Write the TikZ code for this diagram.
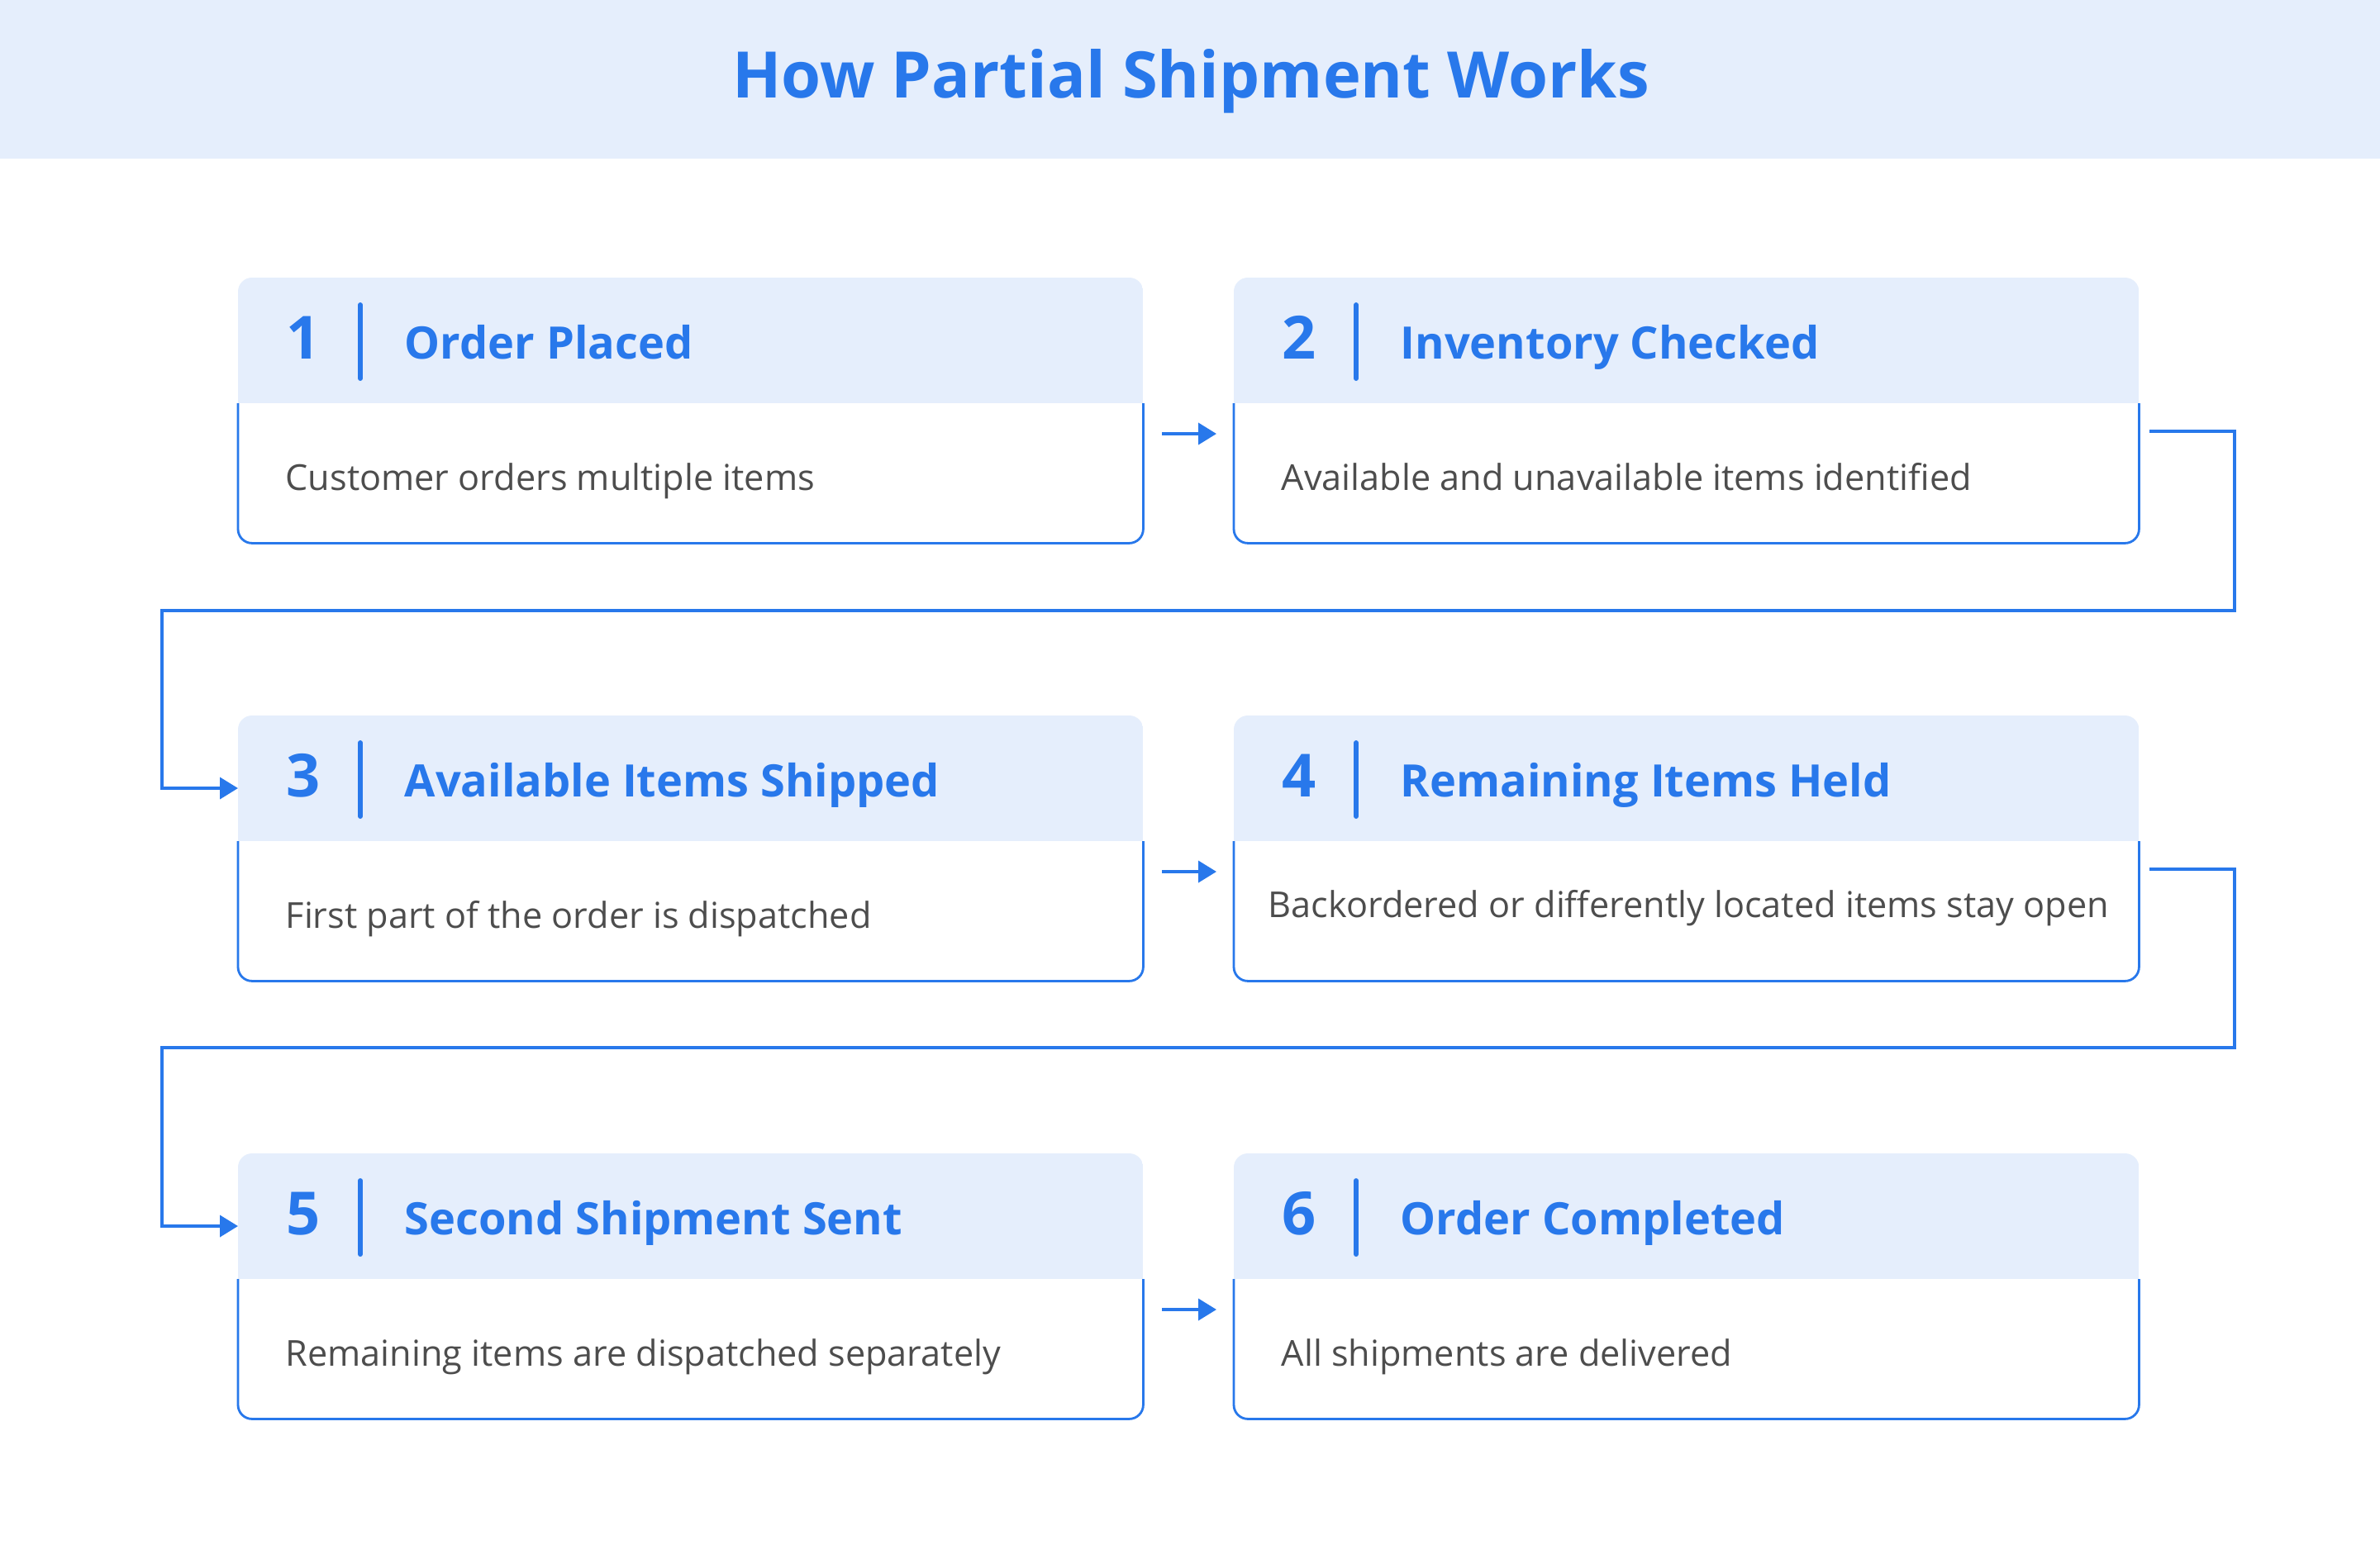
\documentclass[tikz,border=0pt]{standalone}
\usepackage{fontspec}
\setmainfont{Open Sans}
\usepackage{tikz}
\usetikzlibrary{arrows.meta,calc}
\definecolor{flowblue}{RGB}{40,120,235}
\definecolor{headblue}{RGB}{229,238,252}
\definecolor{bodygray}{RGB}{77,77,77}
\def\stephead{1.52cm}

\begin{document}
\begin{tikzpicture}[
    stepbox/.style={minimum width=10.94cm, minimum height=3.2cm, anchor=north west, inner sep=0pt},
    stepnum/.style={anchor=base, inner sep=0pt, text=flowblue, font=\fontsize{20.5}{24}\selectfont\bfseries},
    steptitle/.style={anchor=base west, inner sep=0pt, text=flowblue, font=\fontsize{15.4}{18}\selectfont\bfseries},
    stepdesc/.style={anchor=base west, inner sep=0pt, text=bodygray, font=\fontsize{12.3}{14}\selectfont},
    frame/.style={draw=flowblue, line width=.8pt, rounded corners=.17cm},
    flow/.style={draw=flowblue, line width=1.1pt, -{Triangle[length=.22cm,width=.26cm]}}
]
    \useasboundingbox[fill=white] (0,0) rectangle (28.8,-18.69);
    \fill[headblue] (0,0) rectangle (28.8,-1.92);
    \node[anchor=base, inner sep=0pt, text=flowblue, font=\fontsize{22.1}{26}\selectfont\bfseries] (title) at (14.41,-1.18) {How Partial Shipment Works};
    \foreach \i/\x/\y/\dx/\dy/\name/\desc in {
        1/2.88/-3.36/.57/2.57/Order Placed/Customer orders multiple items,
        2/14.93/-3.36/.57/2.57/Inventory Checked/Available and unavailable items identified,
        3/2.88/-8.66/.57/2.57/Available Items Shipped/First part of the order is dispatched,
        4/14.93/-8.66/.41/2.44/Remaining Items Held/Backordered or differently located items stay open,
        5/2.88/-13.96/.57/2.57/Second Shipment Sent/Remaining items are dispatched separately,
        6/14.93/-13.96/.57/2.57/Order Completed/All shipments are delivered}{
        \node[stepbox] (s\i) at (\x,\y) {};
        \begin{scope}
            \clip[rounded corners=.17cm] (s\i.south west) rectangle (s\i.north east);
            \fill[headblue] (s\i.north west) rectangle ([yshift=-\stephead]s\i.north east);
        \end{scope}
        \draw[frame] ([yshift=-\stephead]s\i.north west) -- (s\i.south west) -- (s\i.south east) -- ([yshift=-\stephead]s\i.north east);
        \node[stepnum] (n\i) at ([xshift=.79cm,yshift=-.98cm]s\i.north west) {\i};
        \draw[flowblue, line width=1.7pt, line cap=round] ([xshift=1.48cm,yshift=-.33cm]s\i.north west) -- ([xshift=1.48cm,yshift=-1.22cm]s\i.north west);
        \node[steptitle] (t\i) at ([xshift=2.01cm,yshift=-.98cm]s\i.north west) {\name};
        \node[stepdesc] (d\i) at ([xshift=\dx cm,yshift=-\dy cm]s\i.north west) {\desc};
    }
    \foreach \a/\b in {1/2,3/4,5/6}
        \draw[flow] ([xshift=.23cm,yshift=-1.89cm]s\a.north east) -- ([xshift=-.21cm,yshift=-1.89cm]s\b.north west);
    \foreach \a/\b/\ylow in {2/3/-7.39,4/5/-12.68}
        \draw[flow] ([xshift=.13cm,yshift=-1.86cm]s\a.north east) -| (27.04,\ylow) -- (1.96,\ylow) |- ([yshift=-.88cm]s\b.north west);
\end{tikzpicture}
\end{document}
